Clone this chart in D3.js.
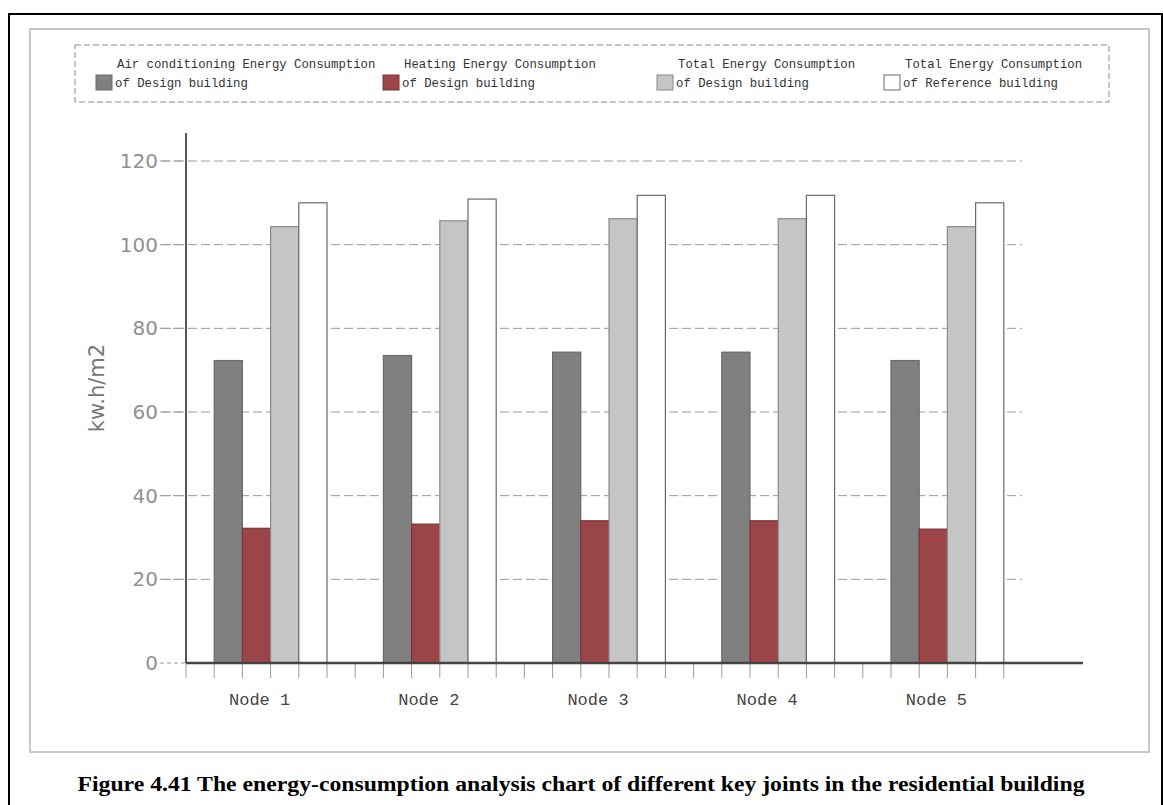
<!DOCTYPE html>
<html>
<head>
<meta charset="utf-8">
<script src="https://cdn.jsdelivr.net/npm/d3@7"></script>
<style>
  body { margin: 0; background: #fff; }
</style>
</head>
<body>
<div id="canvas"></div>
<script>
"use strict";

/* data */
let nodes = ["Node 1", "Node 2", "Node 3", "Node 4", "Node 5"];
let seriesKeys = ["ac", "heat", "totalDesign", "totalRef"];
let acValues = [72.3, 73.5, 74.3, 74.3, 72.3];
let heatValues = [32.2, 33.2, 34.0, 34.0, 32.0];
let totalDesignValues = [104.3, 105.7, 106.2, 106.2, 104.3];
let totalRefValues = [110.0, 110.9, 111.8, 111.8, 110.0];
let yTicks = [0, 20, 40, 60, 80, 100, 120];
let legendLine1 = ["Air conditioning Energy Consumption", "Heating Energy Consumption", "Total Energy Consumption", "Total Energy Consumption"];
let legendLine2 = ["of Design building", "of Design building", "of Design building", "of Reference building"];
let caption = "Figure 4.41 The energy-consumption analysis chart of different key joints in the residential building";

let seriesValues = [acValues, heatValues, totalDesignValues, totalRefValues];

/* svg setup */
let svgWidth = 1163;
let svgHeight = 805;

let svg = d3.select("#canvas")
  .append("svg")
  .attr("width", svgWidth)
  .attr("height", svgHeight);

/* outer black frame */
svg.append("path")
  .attr("d", "M9,806 L9,14 L1162,14 L1162,806")
  .attr("fill", "none")
  .attr("stroke", "black")
  .attr("stroke-width", 2);

/* inner gray frame */
svg.append("rect")
  .attr("x", 30)
  .attr("y", 29)
  .attr("width", 1119)
  .attr("height", 723)
  .attr("fill", "none")
  .attr("stroke", "#c8c8c8")
  .attr("stroke-width", 2);

/* scales */
let axisLeft = 186;
let axisBottom = 663;

let x0 = d3.scaleBand()
  .domain(nodes)
  .range([axisLeft, 1032])
  .paddingInner(1 / 3)
  .paddingOuter(1 / 6);

let x1 = d3.scaleBand()
  .domain(seriesKeys)
  .range([0, x0.bandwidth()]);

let y = d3.scaleLinear()
  .domain([0, 120])
  .range([axisBottom, 161]);

let colors = {
  ac: "#808080",
  heat: "#9c4548",
  totalDesign: "#c5c5c5",
  totalRef: "#ffffff"
};
let strokes = {
  ac: "#6a6a6a",
  heat: "#7e3438",
  totalDesign: "#8a8a8a",
  totalRef: "#6a6a6a"
};

/* gridlines */
yTicks.forEach(function (t) {
  if (t === 0) return;
  svg.append("line")
    .attr("x1", 162)
    .attr("x2", 1022)
    .attr("y1", y(t))
    .attr("y2", y(t))
    .attr("stroke", "#9a9a9a")
    .attr("stroke-width", 1)
    .attr("stroke-dasharray", "9,4");
});

/* y tick labels */
yTicks.forEach(function (t) {
  svg.append("line")
    .attr("x1", 160)
    .attr("x2", axisLeft)
    .attr("y1", y(t))
    .attr("y2", y(t))
    .attr("stroke", "#9a9a9a")
    .attr("stroke-dasharray", t === 0 ? "4,3" : "9,4");
  svg.append("text")
    .attr("x", 158)
    .attr("y", y(t) + 7)
    .attr("text-anchor", "end")
    .attr("font-family", "DejaVu Sans")
    .style("font-size", "20px")
    .attr("fill", "#909090")
    .text(t);
});

/* bars */
nodes.forEach(function (n, i) {
  seriesKeys.forEach(function (k, j) {
    let v = seriesValues[j][i];
    svg.append("rect")
      .attr("x", x0(n) + x1(k))
      .attr("y", y(v))
      .attr("width", x1.bandwidth())
      .attr("height", y(0) - y(v))
      .attr("fill", colors[k])
      .attr("stroke", strokes[k])
      .attr("stroke-width", 1.2);
  });
});

/* x slot ticks */
let slot = x0.step() / 6;
for (let k = 0; k < 30; k++) {
  let xx = axisLeft + k * slot;
  svg.append("line")
    .attr("x1", xx)
    .attr("x2", xx)
    .attr("y1", axisBottom)
    .attr("y2", axisBottom + 15)
    .attr("stroke", "#9a9a9a")
    .attr("stroke-width", 1);
}

/* axes */
svg.append("line")
  .attr("x1", axisLeft)
  .attr("x2", axisLeft)
  .attr("y1", 133)
  .attr("y2", axisBottom)
  .attr("stroke", "#555")
  .attr("stroke-width", 2);

svg.append("line")
  .attr("x1", axisLeft)
  .attr("x2", 1083)
  .attr("y1", axisBottom)
  .attr("y2", axisBottom)
  .attr("stroke", "#444")
  .attr("stroke-width", 2.5);

/* node labels */
nodes.forEach(function (n) {
  svg.append("text")
    .attr("x", x0(n) + x0.bandwidth() / 2 - 11)
    .attr("y", 705)
    .attr("text-anchor", "middle")
    .attr("font-family", "Liberation Mono")
    .style("font-size", "17px")
    .attr("fill", "#444")
    .text(n);
});

/* y axis title */
svg.append("text")
  .attr("transform", "translate(104,388) rotate(-90)")
  .attr("text-anchor", "middle")
  .attr("font-family", "DejaVu Sans")
  .style("font-size", "21px")
  .attr("fill", "#777")
  .text("kw.h/m2");

/* legend */
svg.append("rect")
  .attr("x", 75)
  .attr("y", 45)
  .attr("width", 1034)
  .attr("height", 57)
  .attr("fill", "none")
  .attr("stroke", "#8a8a8a")
  .attr("stroke-dasharray", "6,3");

let legendSwatchX = [96, 383, 657, 884];
seriesKeys.forEach(function (k, j) {
  let sx = legendSwatchX[j];
  svg.append("rect")
    .attr("x", sx)
    .attr("y", 75)
    .attr("width", 16)
    .attr("height", 15)
    .attr("fill", colors[k])
    .attr("stroke", strokes[k]);
  svg.append("text")
    .attr("x", sx + 21)
    .attr("y", 68)
    .attr("font-family", "Liberation Mono")
    .style("font-size", "12.3px")
    .attr("fill", "#333")
    .text(legendLine1[j]);
  svg.append("text")
    .attr("x", sx + 19)
    .attr("y", 87)
    .attr("font-family", "Liberation Mono")
    .style("font-size", "12.3px")
    .attr("fill", "#333")
    .text(legendLine2[j]);
});

/* caption */
svg.append("text")
  .attr("x", 581)
  .attr("y", 791)
  .attr("text-anchor", "middle")
  .attr("font-family", "Liberation Serif")
  .style("font-size", "20px")
  .style("font-weight", "bold")
  .attr("textLength", 1007)
  .attr("lengthAdjust", "spacingAndGlyphs")
  .text(caption);
</script>
</body>
</html>
